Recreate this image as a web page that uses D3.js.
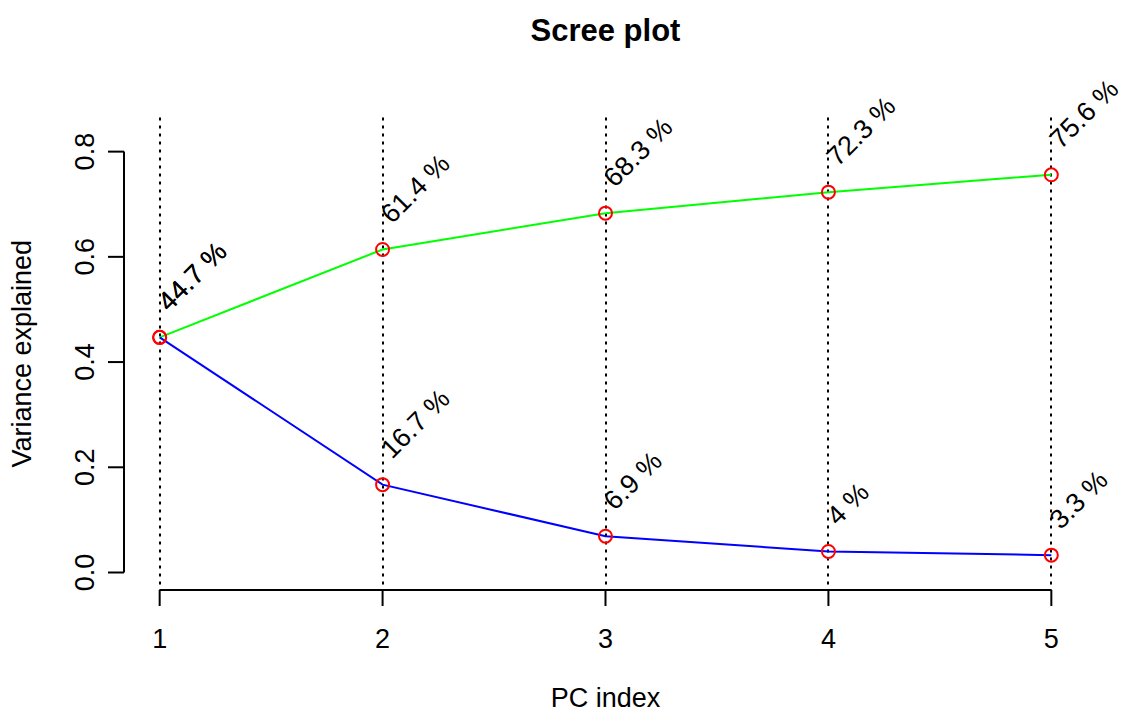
<!DOCTYPE html>
<html>
<head>
<meta charset="utf-8">
<script src="https://cdn.jsdelivr.net/npm/d3@7"></script>
<style>
  html, body { margin: 0; padding: 0; background: #fff; }
  svg { display: block; font-family: "Liberation Sans", Arial, sans-serif; }
</style>
</head>
<body>
<script>
// ---- data ----
const pcIndex = [1, 2, 3, 4, 5];
const varianceExplained = [0.447, 0.167, 0.069, 0.040, 0.033];
const cumulativeVariance = [0.447, 0.614, 0.683, 0.723, 0.756];
const individualLabels = ["44.7 %", "16.7 %", "6.9 %", "4 %", "3.3 %"];
const cumulativeLabels = ["44.7 %", "61.4 %", "68.3 %", "72.3 %", "75.6 %"];
const yTicks = [0.0, 0.2, 0.4, 0.6, 0.8];
const xTicks = [1, 2, 3, 4, 5];

const W = 1127, H = 715;
const svg = d3.select("body").append("svg").attr("width", W).attr("height", H);

const plot = { left: 124, right: 1087, top: 117.5, bottom: 590 };
const x = d3.scaleLinear().domain([0.84, 5.16]).range([plot.left, plot.right]);
const yMax = d3.max(cumulativeVariance) * 1.1;
const yPad = yMax * 0.04;
const y = d3.scaleLinear().domain([-yPad, yMax + yPad]).range([plot.bottom, plot.top]);

const fs = 27;

// dotted vertical lines
svg.append("g").selectAll("line").data(pcIndex).join("line")
  .attr("x1", d => Math.round(x(d))).attr("x2", d => Math.round(x(d)))
  .attr("y1", plot.top).attr("y2", plot.bottom)
  .attr("stroke", "#000").attr("stroke-width", 2)
  .attr("stroke-dasharray", "3,5");

// lines
const line = d3.line().x((d, i) => x(pcIndex[i])).y(d => y(d));
svg.append("path").datum(cumulativeVariance).attr("d", line)
  .attr("fill", "none").attr("stroke", "#00ff00").attr("stroke-width", 2);
svg.append("path").datum(varianceExplained).attr("d", line)
  .attr("fill", "none").attr("stroke", "#0000ff").attr("stroke-width", 2);

// points
[cumulativeVariance, varianceExplained].forEach(series => {
  svg.append("g").selectAll("circle").data(series).join("circle")
    .attr("cx", (d, i) => x(pcIndex[i])).attr("cy", d => y(d))
    .attr("r", 6.5).attr("fill", "none")
    .attr("stroke", "#ff0000").attr("stroke-width", 2);
});

// percent labels
function addLabels(series, labels) {
  svg.append("g").selectAll("text").data(series).join("text")
    .attr("transform", (d, i) => `translate(${x(pcIndex[i]) + 3},${y(d) - 31}) rotate(-45)`)
    .attr("dominant-baseline", "central")
    .attr("font-size", fs)
    .attr("fill", "#000")
    .text((d, i) => labels[i]);
}
addLabels(cumulativeVariance, cumulativeLabels);
addLabels(varianceExplained, individualLabels);

// y axis (R style)
const yAx = svg.append("g");
yAx.append("line").attr("x1", plot.left).attr("x2", plot.left)
  .attr("y1", y(yTicks[0])).attr("y2", y(yTicks[yTicks.length - 1]))
  .attr("stroke", "#000").attr("stroke-width", 2);
yAx.selectAll("line.tick").data(yTicks).join("line").attr("class", "tick")
  .attr("x1", plot.left - 16).attr("x2", plot.left)
  .attr("y1", d => y(d)).attr("y2", d => y(d))
  .attr("stroke", "#000").attr("stroke-width", 2);
yAx.selectAll("text").data(yTicks).join("text")
  .attr("transform", d => `translate(94,${y(d)}) rotate(-90)`)
  .attr("text-anchor", "middle").attr("font-size", fs)
  .text(d => d3.format(".1f")(d));

// x axis
const xAx = svg.append("g");
xAx.append("line").attr("x1", x(xTicks[0])).attr("x2", x(xTicks[xTicks.length - 1]))
  .attr("y1", plot.bottom).attr("y2", plot.bottom)
  .attr("stroke", "#000").attr("stroke-width", 2);
xAx.selectAll("line.tick").data(xTicks).join("line").attr("class", "tick")
  .attr("x1", d => x(d)).attr("x2", d => x(d))
  .attr("y1", plot.bottom).attr("y2", plot.bottom + 16)
  .attr("stroke", "#000").attr("stroke-width", 2);
xAx.selectAll("text").data(xTicks).join("text")
  .attr("x", d => x(d)).attr("y", 648)
  .attr("text-anchor", "middle").attr("font-size", fs)
  .text(d => d);

// titles
const cx = (plot.left + plot.right) / 2;
svg.append("text").attr("x", cx).attr("y", 41)
  .attr("text-anchor", "middle").attr("font-size", 31).attr("font-weight", "bold")
  .text("Scree plot");
svg.append("text").attr("x", cx).attr("y", 707)
  .attr("text-anchor", "middle").attr("font-size", fs)
  .text("PC index");
svg.append("text")
  .attr("transform", `translate(31,${(plot.top + plot.bottom) / 2}) rotate(-90)`)
  .attr("text-anchor", "middle").attr("font-size", fs)
  .text("Variance explained");
</script>
</body>
</html>
